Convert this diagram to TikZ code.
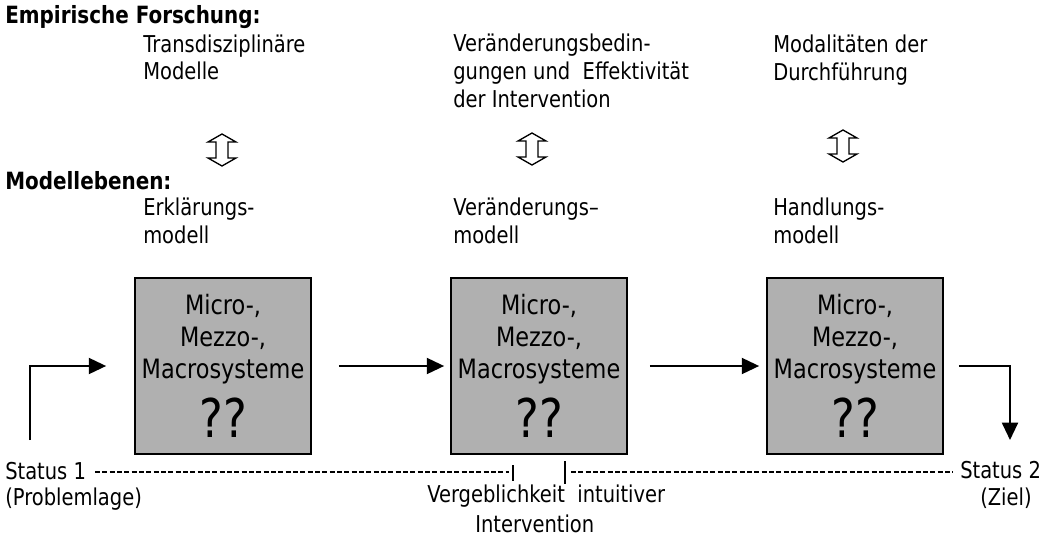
\documentclass[tikz,border=0pt]{standalone}
\usepackage{fontspec}
\setmainfont{DejaVu Sans}[FakeStretch=0.84]
\usetikzlibrary{arrows.meta,calc}
\definecolor{boxgray}{RGB}{176,176,176}
\begin{document}
\begin{tikzpicture}[x=0.75pt,y=-0.75pt,
  txt/.style={anchor=base west,inner sep=0pt,font=\fontsize{17.4}{21}\selectfont},
  headtxt/.style={anchor=base west,inner sep=0pt,font=\bfseries\fontsize{17.8}{21}\selectfont},
  box/.style={draw,line width=1.3pt,fill=boxgray,minimum width=132pt,minimum height=132pt,
    align=center,inner sep=0pt,font=\fontsize{20}{24}\selectfont},
  flow/.style={line width=1.5pt,-{Triangle[length=13pt,width=12pt]}},
  dotline/.style={line width=0.8pt,dash pattern=on 3.8pt off 1.7pt},
  tick/.style={line width=0.9pt},
  dblarrow/.style={line width=1pt,fill=white,line join=miter}
]
\useasboundingbox (0,0) rectangle (1043,540);

% headings
\node[headtxt] (h1) at (5,23) {Empirische Forschung:};
\node[headtxt] (h2) at (5,189) {Modellebenen:};

% top texts
\node[txt] (a1) at (143,52) {Transdisziplinäre};
\node[txt] (a2) at (143,79) {Modelle};
\node[txt] (b1t) at (453,51) {Veränderungsbedin-};
\node[txt] (b2t) at (453,79) {gungen und\ \ Effektivität};
\node[txt] (b3t) at (453,107) {der Intervention};
\node[txt] (c1) at (773,52) {Modalitäten der};
\node[txt] (c2) at (773,80) {Durchführung};

% model labels
\node[txt] (m1a) at (143,215) {Erklärungs-};
\node[txt] (m1b) at (143,243) {modell};
\node[txt] (m2a) at (453,215) {Veränderungs–};
\node[txt] (m2b) at (453,243) {modell};
\node[txt] (m3a) at (773,215) {Handlungs-};
\node[txt] (m3b) at (773,243) {modell};

% hollow double arrows
\foreach \cx/\cy in {222/150,532/149,843/146}{
  \draw[dblarrow] (\cx,\cy-16) -- (\cx+14,\cy-8) -- (\cx+6,\cy-8) -- (\cx+6,\cy+8)
    -- (\cx+14,\cy+8) -- (\cx,\cy+16) -- (\cx-14,\cy+8) -- (\cx-6,\cy+8)
    -- (\cx-6,\cy-8) -- (\cx-14,\cy-8) -- cycle;
}

% boxes
\node[box] (bx1) at (223,366) {Micro-,\\Mezzo-,\\Macrosysteme\\[9pt]{\fontsize{40}{40}\selectfont ??}};
\node[box] (bx2) at (539,366) {Micro-,\\Mezzo-,\\Macrosysteme\\[9pt]{\fontsize{40}{40}\selectfont ??}};
\node[box] (bx3) at (855,366) {Micro-,\\Mezzo-,\\Macrosysteme\\[9pt]{\fontsize{40}{40}\selectfont ??}};

% flow arrows
\coordinate (s1) at (30,440);
\coordinate (s2) at (1010,440);
\draw[flow] (s1) |- ($(bx1.west)+(-28,0)$);
\draw[flow,shorten <=27*0.75pt,shorten >=6*0.75pt] (bx1.east) -- (bx2.west);
\draw[flow,shorten <=22*0.75pt,shorten >=7*0.75pt] (bx2.east) -- (bx3.west);
\draw[flow] ($(bx3.east)+(15,0)$) -| (s2);

% status line
\node[txt] (st1) at (5,479) {Status 1};
\node[txt] (st1b) at (5,505) {(Problemlage)};
\node[txt] (st2) at (960,478) {Status 2};
\node[txt] (st2b) at (980,505) {(Ziel)};
\coordinate (d1) at (95,472);
\coordinate (d2) at (509,472);
\coordinate (d3) at (571,472);
\coordinate (d4) at (953,472);
\draw[dotline] (d1) -- (d2);
\draw[dotline] (d3) -- (d4);
\coordinate (k1t) at (513,465);
\coordinate (k1b) at (513,481);
\coordinate (k2t) at (565,461);
\coordinate (k2b) at (565,484);
\draw[tick] (k1t) -- (k1b);
\draw[tick] (k2t) -- (k2b);
\node[txt] (v1) at (427,502) {Vergeblichkeit\ \ intuitiver};
\node[txt] (v2) at (475,532) {Intervention};
\end{tikzpicture}
\end{document}
